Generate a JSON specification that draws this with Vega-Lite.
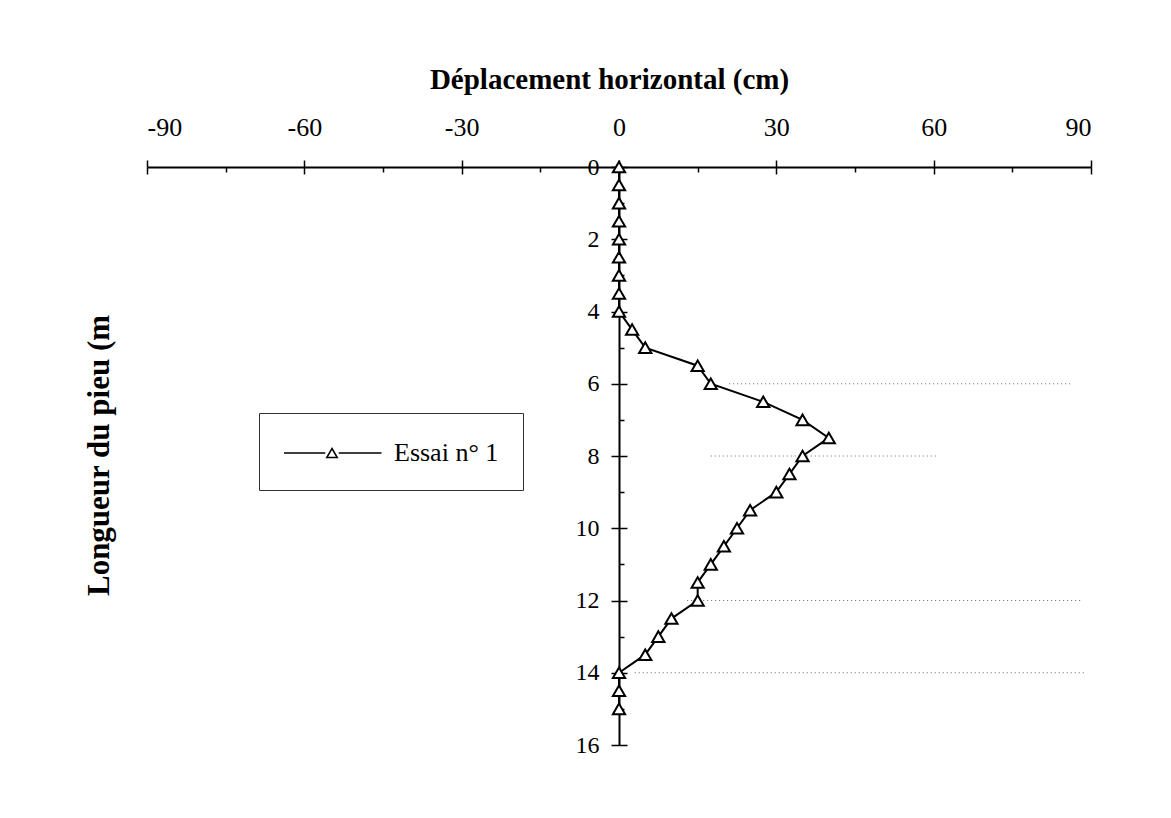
{
  "$schema": "https://vega.github.io/schema/vega-lite/v6.json",
  "width": 944,
  "height": 578,
  "autosize": {"type": "none"},
  "padding": {"left": 147, "top": 167, "right": 80, "bottom": 73},
  "background": "white",
  "config": {
    "view": {"stroke": null},
    "font": "Liberation Serif"
  },
  "datasets": {
    "essai": [
      {"depth": 0, "disp": 0}, {"depth": 0.5, "disp": 0}, {"depth": 1, "disp": 0},
      {"depth": 1.5, "disp": 0}, {"depth": 2, "disp": 0}, {"depth": 2.5, "disp": 0},
      {"depth": 3, "disp": 0}, {"depth": 3.5, "disp": 0}, {"depth": 4, "disp": 0},
      {"depth": 4.5, "disp": 2.5}, {"depth": 5, "disp": 5}, {"depth": 5.5, "disp": 15},
      {"depth": 6, "disp": 17.5}, {"depth": 6.5, "disp": 27.5}, {"depth": 7, "disp": 35},
      {"depth": 7.5, "disp": 40}, {"depth": 8, "disp": 35}, {"depth": 8.5, "disp": 32.5},
      {"depth": 9, "disp": 30}, {"depth": 9.5, "disp": 25}, {"depth": 10, "disp": 22.5},
      {"depth": 10.5, "disp": 20}, {"depth": 11, "disp": 17.5}, {"depth": 11.5, "disp": 15},
      {"depth": 12, "disp": 15}, {"depth": 12.5, "disp": 10}, {"depth": 13, "disp": 7.5},
      {"depth": 13.5, "disp": 5}, {"depth": 14, "disp": 0}, {"depth": 14.5, "disp": 0},
      {"depth": 15, "disp": 0}
    ],
    "grid": [
      {"level": 6, "from": 21, "to": 86},
      {"level": 8, "from": 17.5, "to": 60.5},
      {"level": 12, "from": 13, "to": 88},
      {"level": 14, "from": 3, "to": 89}
    ]
  },
  "resolve": {"axis": {"x": "independent", "y": "independent"}},
  "layer": [
    {
      "data": {"name": "grid"},
      "mark": {"type": "rule", "color": "#666666", "strokeWidth": 1, "strokeDash": [1, 3]},
      "encoding": {
        "x": {"field": "from", "type": "quantitative", "scale": {"domain": [-90, 90], "nice": false, "zero": false}, "axis": null},
        "x2": {"field": "to"},
        "y": {"field": "level", "type": "quantitative", "scale": {"domain": [0, 16], "reverse": true, "nice": false}, "axis": null}
      }
    },
    {
      "data": {"name": "essai"},
      "mark": {"type": "line", "strokeWidth": 2},
      "encoding": {
        "order": {"field": "depth", "type": "quantitative"},
        "x": {
          "field": "disp", "type": "quantitative",
          "scale": {"domain": [-90, 90], "nice": false, "zero": false},
          "axis": {
            "orient": "top",
            "title": "Déplacement horizontal (cm)",
            "titleFont": "Liberation Serif", "titleFontSize": 29, "titleFontWeight": "bold",
            "titleColor": "black", "titlePadding": 20, "titleX": 462,
            "values": [-90, -60, -30, 0, 30, 60, 90],
            "labelExpr": "'' + datum.value",
            "labelFontSize": 26, "labelColor": "black", "labelPadding": 20,
            "tickSize": 7, "tickColor": "black", "tickWidth": 1.5,
            "domainColor": "black", "domainWidth": 2,
            "grid": false
          }
        },
        "y": {
          "field": "depth", "type": "quantitative",
          "scale": {"domain": [0, 16], "reverse": true, "nice": false},
          "axis": {
            "orient": "left",
            "offset": -472,
            "title": "Longueur du pieu (m",
            "titleFont": "Liberation Serif", "titleFontSize": 31, "titleFontWeight": "bold",
            "titleColor": "black",
            "titleX": -520, "titleY": 288, "titleAngle": -90,
            "titleAlign": "center", "titleBaseline": "middle",
            "values": [0, 2, 4, 6, 8, 10, 12, 14, 16],
            "labelFontSize": 24, "labelColor": "black", "labelPadding": 12,
            "tickSize": 8, "tickColor": "black", "tickWidth": 1.5,
            "domainColor": "black", "domainWidth": 2,
            "grid": false
          }
        },
        "color": {
          "datum": "Essai n° 1",
          "type": "nominal",
          "scale": {"range": ["black"]},
          "legend": {
            "title": null,
            "orient": "none",
            "legendX": 112,
            "legendY": 246,
            "padding": 24,
            "strokeColor": "#333333",
            "symbolType": "M-1,0L1.75,0M2.65,0L5.5,0M2.2,-0.3L2.55,0.3L1.85,0.3Z",
            "symbolSize": 900,
            "symbolStrokeWidth": 1.5,
            "symbolStrokeColor": "black",
            "symbolFillColor": "white",
            "labelFont": "Liberation Serif",
            "labelFontSize": 26,
            "labelColor": "black",
            "labelOffset": 79,
            "labelExpr": "datum.label + '          '"
          }
        }
      }
    },
    {
      "data": {"name": "essai"},
      "mark": {"type": "point", "shape": "triangle-up", "size": 150, "filled": true, "fill": "white", "stroke": "black", "strokeWidth": 2, "opacity": 1},
      "encoding": {
        "x": {
          "field": "disp", "type": "quantitative",
          "scale": {"domain": [-90, 90], "nice": false, "zero": false},
          "axis": {
            "orient": "bottom", "offset": -578,
            "title": null, "labels": false, "domain": false, "grid": false,
            "values": [-90, -75, -60, -45, -30, -15, 0, 15, 30, 45, 60, 75, 90],
            "tickSize": {"condition": {"test": "datum.value % 30 === 0", "value": 7}, "value": 5},
            "tickColor": "black", "tickWidth": 1.5
          }
        },
        "y": {
          "field": "depth", "type": "quantitative",
          "scale": {"domain": [0, 16], "reverse": true, "nice": false},
          "axis": {
            "orient": "right", "offset": -472,
            "title": null, "labels": false, "domain": false, "grid": false,
            "values": [0, 1, 2, 3, 4, 5, 6, 7, 8, 9, 10, 11, 12, 13, 14, 15, 16],
            "tickSize": {"condition": {"test": "datum.value % 2 === 0", "value": 8}, "value": 5},
            "tickColor": "black", "tickWidth": 1.5
          }
        }
      }
    }
  ]
}
